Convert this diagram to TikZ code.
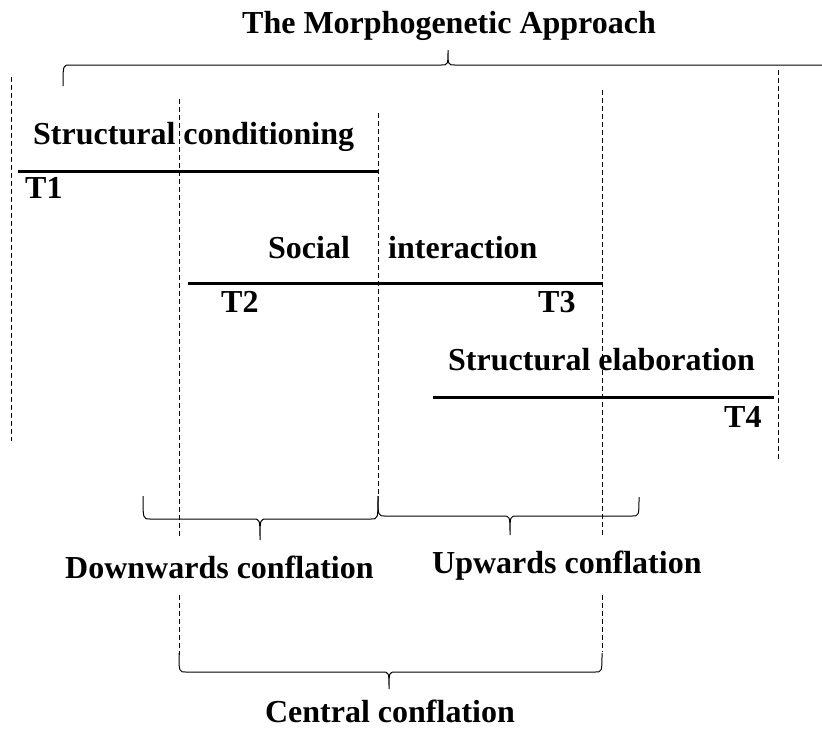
\documentclass[tikz,border=0pt]{standalone}
\usepackage{fontspec}
\setmainfont{Liberation Serif}
\begin{document}
\begin{tikzpicture}[x=1pt,y=-1pt,
  lbl/.style={font=\fontsize{32}{36}\selectfont\bfseries, inner sep=0pt, anchor=base west},
  period/.style={line width=3pt},
  guide/.style={line width=0.8pt, dash pattern=on 5pt off 3pt},
  brace/.style={line width=1pt}]
\useasboundingbox (0,0) rectangle (822,737);

% title and the brace that spans the whole cycle
\node[lbl, anchor=base] (title) at (449,33) {The Morphogenetic Approach};
\draw[brace] (63,86) .. controls (63,65) .. (70,65) -- (441,65)
  .. controls (448,65) .. (448,50) .. controls (448,65) .. (455,65) -- (830,65);

% vertical time markers
\draw[guide] (11,77) -- (11,441);
\draw[guide] (179,99) -- (179,537);
\draw[guide] (179,595) -- (179,655);
\draw[guide] (378,113) -- (378,495);
\draw[guide] (602,90) -- (602,537);
\draw[guide] (602,595) -- (602,652);
\draw[guide] (778,70) -- (778,460);

% phase 1: structural conditioning
\node[lbl] (cond) at (33,144) {Structural conditioning};
\coordinate (c0) at (18,171);
\coordinate (c1) at (378,171);
\draw[period] (c0) -- (c1);
\node[lbl] (t1) at (25,198) {T1};

% phase 2: social interaction
\node[lbl] (soc) at (268,258) {Social};
\node[lbl] (inter) at (388,258) {interaction};
\coordinate (s0) at (188,283);
\coordinate (s1) at (602,283);
\draw[period] (s0) -- (s1);
\node[lbl] (t2) at (221,312) {T2};
\node[lbl] (t3) at (538,312) {T3};

% phase 3: structural elaboration
\node[lbl] (elab) at (448,370) {Structural elaboration};
\coordinate (e0) at (433,397);
\coordinate (e1) at (774,397);
\draw[period] (e0) -- (e1);
\node[lbl] (t4) at (724,427) {T4};

% conflation braces
\draw[brace] (143,496) .. controls (143,519) .. (150,519) -- (253,519)
  .. controls (260,519) .. (260,540) .. controls (260,519) .. (267,519) -- (371,519)
  .. controls (378,519) .. (378,496);
\draw[brace] (378,496) .. controls (378,516) .. (385,516) -- (503,516)
  .. controls (510,516) .. (510,535) .. controls (510,516) .. (517,516) -- (632,516)
  .. controls (639,516) .. (639,497);
\draw[brace] (179,653) .. controls (179,672) .. (186,672) -- (382,672)
  .. controls (389,672) .. (389,689) .. controls (389,672) .. (396,672) -- (595,672)
  .. controls (602,672) .. (602,653);

\node[lbl] (down) at (65,578) {Downwards conflation};
\node[lbl] (up) at (432,573) {Upwards conflation};
\node[lbl, anchor=base] (central) at (390,722) {Central conflation};
\end{tikzpicture}
\end{document}
